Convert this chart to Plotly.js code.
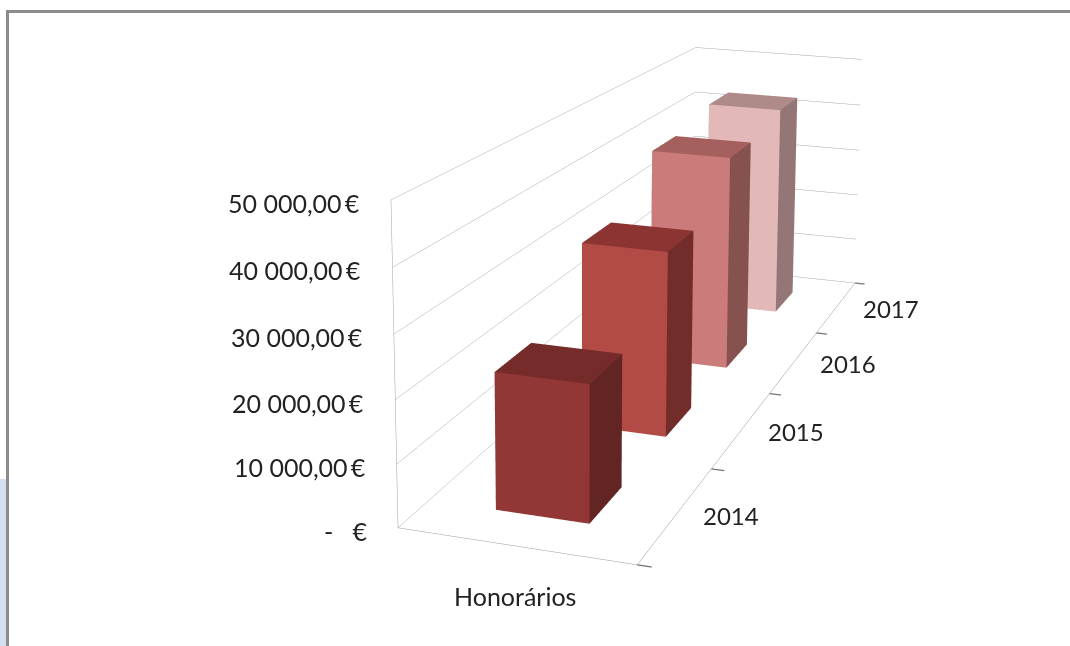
<!DOCTYPE html>
<html><head><meta charset="utf-8">
<script src="https://cdn.plot.ly/plotly-3.0.1.min.js"></script>
<style>html,body{margin:0;padding:0;background:#fff;overflow:hidden}
#w{position:relative;width:1070px;height:646px;overflow:hidden}
#c{position:absolute;left:0;top:-622px;width:1622px;height:1364px}</style>
</head><body><div id="w"><div id="c"></div></div>
<script>
const years = ['2014','2015','2016','2017'];
const category = 'Honorários';
const values = [22000, 32400, 40600, 42800];
const valueTicks = [0,10000,20000,30000,40000,50000];
const valueLabels = ['-   €','10 000,00\u2009€','20 000,00\u2009€','30 000,00\u2009€','40 000,00\u2009€','50 000,00\u2009€'];
const frontColors = ['#923735','#B24A46','#CB7C7A','#E2B9B8'];
const topColors = ['#742B2A','#8C3431','#A5605E','#AE8A89'];
const sideColors = ['#632523','#722C2A','#865250','#937675'];

const W=1622,H=1364,TOP=622;
const px=x=>x/W, py=y=>1-(y+TOP)/H;

const traces = [];
values.forEach((v,i)=>{
  const x0=-0.205,x1=0.20,y0=i+0.29,y1=i+0.68;
  const X=[x0,x1,x1,x0,x0,x1,x1,x0], Y=[y0,y0,y1,y1,y0,y0,y1,y1], Z=[0,0,0,0,v,v,v,v];
  const I=[0,0, 4,4, 1,1, 0,0, 3,3, 0,0];
  const J=[1,5, 5,6, 2,6, 3,7, 2,6, 1,2];
  const K=[5,4, 6,7, 6,5, 7,4, 6,7, 2,3];
  const fc=[frontColors[i],frontColors[i],topColors[i],topColors[i],sideColors[i],sideColors[i],sideColors[i],sideColors[i],sideColors[i],sideColors[i],sideColors[i],sideColors[i]];
  traces.push({type:'mesh3d',x:X,y:Y,z:Z,i:I,j:J,k:K,facecolor:fc,flatshading:true,
    lighting:{ambient:1,diffuse:0,specular:0,roughness:1,fresnel:0},hoverinfo:'skip',showscale:false});
});
const font={family:'Lato, sans-serif',size:25,color:'#222'};
const yearFont={family:'Lato, sans-serif',size:24,color:'#222'};
const ann=[];
valueTicks.forEach((v,i)=>ann.push({x:-0.5,y:0,z:v,text:valueLabels[i],showarrow:false,xanchor:'right',yanchor:'middle',xshift:-29,yshift:-3,font:font}));
years.forEach((t,i)=>ann.push({x:0.5,y:i+0.5,z:0,text:t,showarrow:false,xanchor:'left',yanchor:'middle',xshift:24,yshift:-2,font:yearFont}));
ann.push({x:0,y:0,z:0,text:category,showarrow:false,xanchor:'center',yanchor:'middle',yshift:-50,font:font});
const layout={
  width:W,height:H,margin:{l:0,r:0,t:0,b:0},paper_bgcolor:'#fff',showlegend:false,
  scene:{
    domain:{x:[0,1],y:[0,1]},
    aspectmode:'manual',aspectratio:{x:0.321,y:1.1524,z:0.4278},
    camera:{eye:{x:0.81445,y:-2.32365,z:0.75466},center:{x:0.19845,y:0.05685,z:0.30416},up:{x:-0.07,y:0.1682,z:0.9833},projection:{type:'perspective'}},
    annotations:ann,
    xaxis:{range:[-0.5,0.5],tickvals:[],showticklabels:false,showgrid:false,zeroline:false,showbackground:false,showline:true,linecolor:'#999',title:{text:''},ticks:''},
    yaxis:{range:[0,4],tickvals:[0,1,2,3,4],showticklabels:false,showgrid:false,zeroline:false,showbackground:false,showline:true,linecolor:'#999',title:{text:''},ticks:'outside',ticklen:7,tickwidth:3,tickcolor:'#777'},
    zaxis:{range:[0,50010],tickvals:valueTicks,showticklabels:false,gridcolor:'#a8a8a8',gridwidth:1,zeroline:false,showbackground:false,showline:true,linecolor:'#a0a0a0',title:{text:''},ticks:''}
  },
  shapes:[
    {type:'rect',xref:'paper',yref:'paper',x0:px(0),x1:px(6),y0:py(646),y1:py(479),fillcolor:'#D6DFF2',line:{width:0},layer:'below'},
    {type:'rect',xref:'paper',yref:'paper',x0:px(6),x1:px(1070),y0:py(13),y1:py(10),fillcolor:'#8c8c8c',line:{width:0}},
    {type:'rect',xref:'paper',yref:'paper',x0:px(6),x1:px(9),y0:py(646),y1:py(10),fillcolor:'#8c8c8c',line:{width:0}}
  ]
};
Plotly.newPlot('c',traces,layout,{displayModeBar:false});
</script></body></html>
